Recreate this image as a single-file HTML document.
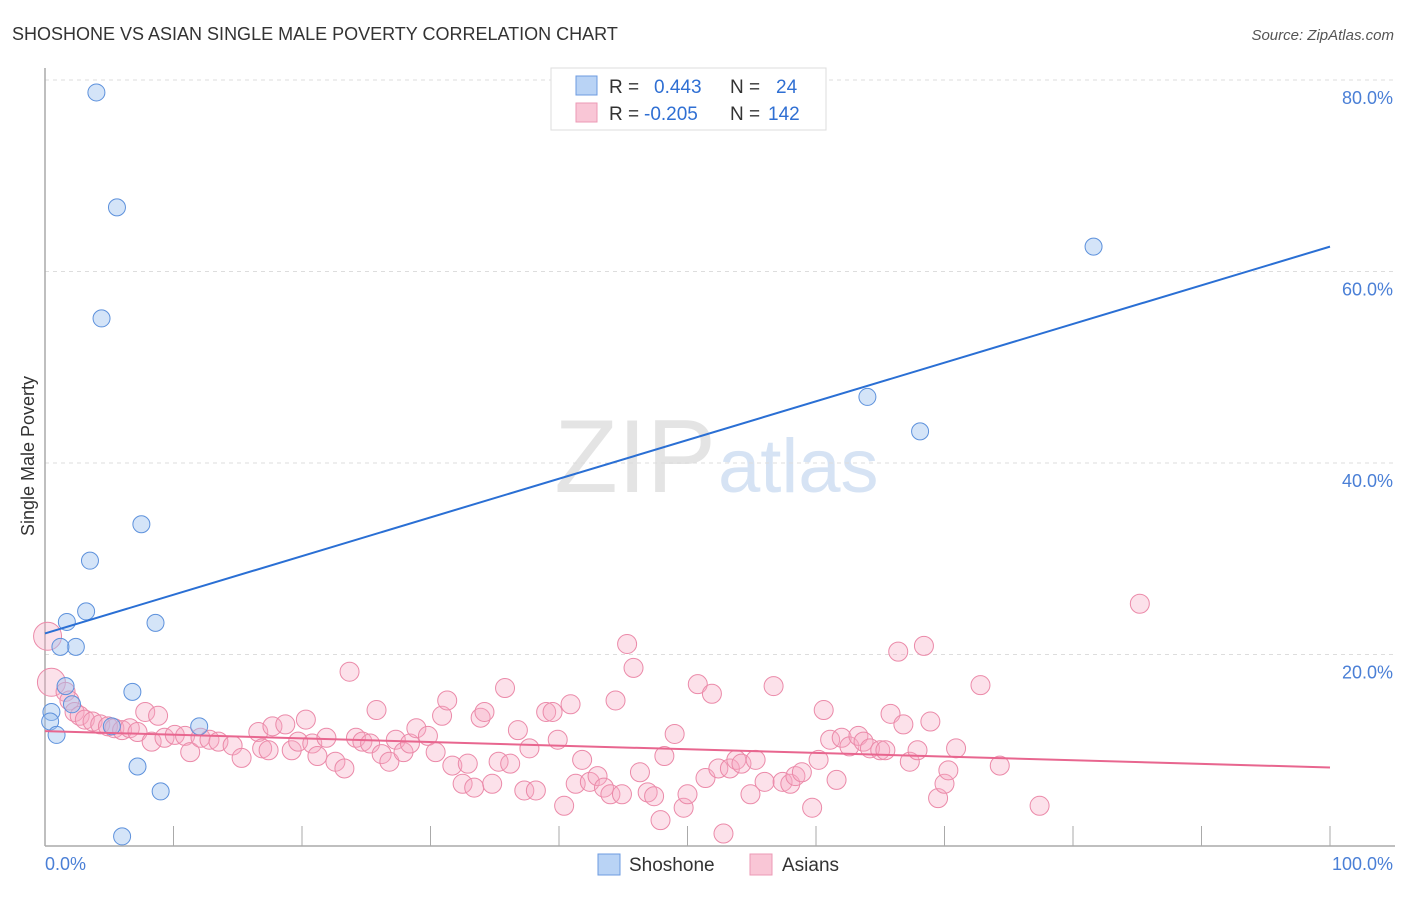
<!DOCTYPE html>
<html><head><meta charset="utf-8"><style>
body{margin:0;background:#fff;font-family:"Liberation Sans",sans-serif;}
svg text{font-family:"Liberation Sans",sans-serif;}
</style></head><body>
<svg id="chart" width="1406" height="892">
<text x="12" y="40" font-size="18" fill="#333">SHOSHONE VS ASIAN SINGLE MALE POVERTY CORRELATION CHART</text>
<text x="1394" y="40" font-size="15" fill="#555" font-style="italic" text-anchor="end">Source: ZipAtlas.com</text>
<text x="716" y="492" font-size="104" fill="#e4e4e4" text-anchor="end" font-family="Liberation Serif">ZIP</text>
<text x="718" y="492" font-size="76" fill="#d6e3f4">atlas</text>
<g id="grid"></g><g id="axes"></g><g id="pts"></g><g id="lines"></g>
<text transform="translate(34,456) rotate(-90)" font-size="18" fill="#333" text-anchor="middle">Single Male Poverty</text>
<g>
<rect x="551" y="68" width="275" height="62" fill="#fff" stroke="#ddd"/>
<rect x="576" y="76" width="21" height="19" fill="#b9d3f5" stroke="#6d9be0"/>
<rect x="576" y="103" width="21" height="19" fill="#f9c6d6" stroke="#ec9ab5"/>
<text x="609" y="93" font-size="19" fill="#333">R = <tspan fill="#2f6fd3" x="654">0.443</tspan><tspan x="730" fill="#333">N = </tspan><tspan x="776" fill="#2f6fd3">24</tspan></text>
<text x="609" y="120" font-size="19" fill="#333">R = <tspan fill="#2f6fd3" x="644">-0.205</tspan><tspan x="730" fill="#333">N = </tspan><tspan x="768" fill="#2f6fd3">142</tspan></text>
</g>
<g>
<rect x="598" y="854" width="22" height="21" fill="#b9d3f5" stroke="#6d9be0"/>
<text x="629" y="871" font-size="19" fill="#333">Shoshone</text>
<rect x="750" y="854" width="22" height="21" fill="#f9c6d6" stroke="#ec9ab5"/>
<text x="782" y="871" font-size="19" fill="#333">Asians</text>
</g>
</svg>
<script>
const yTicks=[20,40,60,80];
const xTickLabels=["0.0%","100.0%"];
const blueX=[4.0,5.6,4.4,81.6,64.0,68.1,7.5,3.5,3.2,1.7,8.6,2.4,1.2,1.6,6.8,2.1,0.5,0.4,0.9,12.0,5.2,7.2,9.0,6.0];
const blueY=[78.7,66.7,55.1,62.6,46.9,43.3,33.6,29.8,24.5,23.4,23.3,20.8,20.8,16.7,16.1,14.8,14.0,13.0,11.6,12.5,12.5,8.3,5.7,1.0];
const pinkX=[0.5,0.2,1.6,1.9,2.3,2.7,3.1,3.7,4.3,4.9,5.4,6.0,6.6,7.2,7.8,8.8,8.3,9.3,10.1,10.9,11.3,12.1,12.8,13.5,14.6,15.3,16.6,16.9,17.4,17.7,18.7,19.2,19.7,20.3,20.8,21.2,21.9,22.6,23.3,23.7,24.2,24.7,25.3,25.8,26.2,26.8,27.3,27.9,28.4,28.9,29.8,30.4,30.9,31.3,31.7,32.5,32.9,33.4,33.9,34.2,34.8,35.3,35.8,36.2,36.8,37.3,37.7,38.2,39.0,39.5,39.9,40.4,40.9,41.3,41.8,42.4,43.0,43.5,44.0,44.4,44.9,45.3,45.8,46.3,46.9,47.4,47.9,48.2,49.0,49.7,50.0,50.8,51.4,51.9,52.4,52.8,53.3,53.8,54.2,54.9,55.3,56.0,56.7,57.4,58.0,58.4,58.9,59.7,60.2,60.6,61.1,61.6,62.0,62.6,63.3,63.7,64.2,65.0,65.4,65.8,66.4,66.8,67.3,67.9,68.4,68.9,69.5,70.0,70.3,70.9,72.8,74.3,77.4,85.2];
const pinkY=[17.1,21.9,16.1,15.2,14.0,13.6,13.2,13.0,12.7,12.5,12.3,12.1,12.3,11.9,14.0,13.6,10.9,11.3,11.6,11.5,9.8,11.3,11.1,10.9,10.5,9.2,11.9,10.2,10.0,12.5,12.7,10.0,10.9,13.2,10.7,9.4,11.3,8.8,8.1,18.2,11.3,10.9,10.7,14.2,9.6,8.8,11.1,9.8,10.7,12.3,11.5,9.8,13.6,15.2,8.4,6.5,8.6,6.1,13.4,14.0,6.5,8.8,16.5,8.6,12.1,5.8,10.2,5.8,14.0,14.0,11.1,4.2,14.8,6.5,9.0,6.7,7.3,6.1,5.4,15.2,5.4,21.1,18.6,7.7,5.6,5.2,2.7,9.4,11.7,4.0,5.4,16.9,7.1,15.9,8.1,1.3,8.1,9.0,8.6,5.4,9.0,6.7,16.7,6.7,6.5,7.3,7.7,4.0,9.0,14.2,11.1,6.9,11.3,10.4,11.5,10.9,10.2,10.0,10.0,13.8,20.3,12.7,8.8,10.0,20.9,13.0,5.0,6.5,7.9,10.2,16.8,8.4,4.2,25.3];
const blueTrend=[22.2,62.6];
const pinkTrend=[12.0,8.2];
const NS="http://www.w3.org/2000/svg";
const X0=45,X1=1330,Y0=846,YS=9.575;
const sx=v=>X0+(X1-X0)*v/100, sy=v=>Y0-v*YS;
function mk(tag,attrs,parent){const e=document.createElementNS(NS,tag);for(const k in attrs)e.setAttribute(k,attrs[k]);document.getElementById(parent).appendChild(e);return e;}
yTicks.forEach(t=>{
 const l=mk('line',{x1:X0,x2:1395,y1:sy(t),y2:sy(t),stroke:'#ddd','stroke-dasharray':'4,4'},'grid');
 
 
 const tx=mk('text',{x:1393,y:sy(t)+24,'font-size':18,fill:'#4a7fd6','text-anchor':'end'},'grid');
 tx.textContent=t.toFixed(1)+'%';
 
 
});
const ax=mk('line',{x1:X0,x2:1395,y1:Y0,y2:Y0,stroke:'#aaa','stroke-width':1.5},'axes');


const ay=mk('line',{x1:X0,x2:X0,y1:68,y2:Y0,stroke:'#aaa','stroke-width':1.5},'axes');


for(let i=1;i<=10;i++){const t=mk('line',{x1:sx(i*10),x2:sx(i*10),y1:Y0,y2:Y0-20,stroke:'#aaa'},'axes');
 
 }
[[0,'start'],[100,'end']].forEach((p,i)=>{const t=mk('text',{x:i?1393:45,y:870,'font-size':18,fill:'#4a7fd6','text-anchor':p[1]},'axes');
 t.textContent=xTickLabels[i];
 
 });
pinkX.forEach((x,i)=>{const c=mk('circle',{cx:sx(x),cy:sy(pinkY[i]),r:i<2?14:9.5,fill:'rgba(246,170,196,0.35)',stroke:'#eb8aa9','stroke-width':1},'pts');
 
 });
blueX.forEach((x,i)=>{const c=mk('circle',{cx:sx(x),cy:sy(blueY[i]),r:8.5,fill:'rgba(160,196,240,0.45)',stroke:'#5d91dc','stroke-width':1},'pts');
 
 });
const bl=mk('line',{x1:sx(0),y1:sy(blueTrend[0]),x2:sx(100),y2:sy(blueTrend[1]),stroke:'#2a6fd4','stroke-width':2},'lines');


const pl=mk('line',{x1:sx(0),y1:sy(pinkTrend[0]),x2:sx(100),y2:sy(pinkTrend[1]),stroke:'#e8668f','stroke-width':2},'lines');


</script>
</body></html>
